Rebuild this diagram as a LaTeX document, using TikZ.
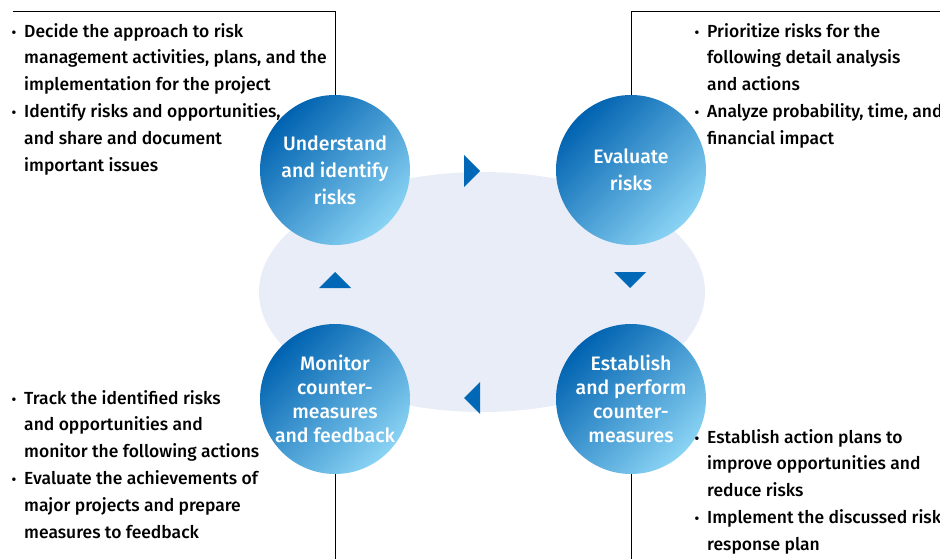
\documentclass[tikz,border=0pt]{standalone}
\usepackage{fontspec}
\setmainfont{Fira Sans Medium}
\definecolor{tri}{HTML}{0068B6}
\definecolor{ell}{HTML}{E9EDF8}
\definecolor{cdark}{HTML}{0062B0}
\definecolor{cmid}{HTML}{0A8ED5}
\definecolor{clight}{HTML}{8AD3F4}
\tikzset{
  stage/.style={circle, minimum size=150pt, inner sep=0pt, left color=cdark, middle color=cmid, right color=clight, shading angle=45, text=white, align=center, font=\fontsize{19.5}{27}\selectfont},
  stagetight/.style={stage, font=\fontsize{19.5}{24}\selectfont},
  desc/.style={anchor=north west, inner sep=0pt, align=left, font=\fontsize{17.5}{26.8}\selectfont},
  link/.style={draw=black, line width=0.8pt},
  arrowtri/.style={fill=tri}
}
\newcommand{\bl}{\makebox[13pt][l]{\hspace*{0.5pt}{\fontsize{14}{14}\selectfont •}}}
\newcommand{\hi}{\hspace*{13pt}}
\begin{document}
\begin{tikzpicture}[x=1pt,y=-1pt]
\useasboundingbox (0,0) rectangle (940,559);
\clip (0,0) rectangle (940,559);
\fill[ell] (482,292) ellipse [x radius=223, y radius=120];
\node[stage] (u) at (335,170) {Understand\\and identify\\risks};
\node[stage] (e) at (631,170) {Evaluate\\risks};
\node[stagetight] (m) at (335,399) {Monitor\\counter-\\measures\\and feedback};
\node[stagetight] (p) at (631,399) {Establish\\and perform\\counter-\\measures};
% triangles
\fill[arrowtri] (464,155) -- (480,171) -- (464,187) -- cycle;
\fill[arrowtri] (614,272) -- (646,272) -- (630,288) -- cycle;
\fill[arrowtri] (480,382) -- (464,398) -- (480,414) -- cycle;
\fill[arrowtri] (319,288) -- (351,288) -- (335,272) -- cycle;
% descriptions
\node[desc] (tl) at (11,23) {\bl Decide the approach to risk\\\hi management activities, plans, and the\\\hi implementation for the project\\\bl Identify risks and opportunities,\\\hi and share and document\\\hi important issues};
\node[desc] (tr) at (694,23) {\bl Prioritize risks for the\\\hi following detail analysis\\\hi and actions\\\bl Analyze probability, time, and\\\hi financial impact};
\node[desc] (bl) at (11,390) {\bl Track the identified risks\\\hi and opportunities and\\\hi monitor the following actions\\\bl Evaluate the achievements of\\\hi major projects and prepare\\\hi measures to feedback};
\node[desc] (br) at (694,429) {\bl Establish action plans to\\\hi improve opportunities and\\\hi reduce risks\\\bl Implement the discussed risk\\\hi response plan};
% connectors
\coordinate (tlc) at (13,11);
\coordinate (trc) at (940,11);
\coordinate (bot) at (0,559);
\draw[link] (tlc) -- (tlc -| u.north) -- (u.north);
\draw[link] (trc) -- (trc -| e.north) -- (e.north);
\draw[link] (m.south) -- (bot -| m.south);
\draw[link] (p.south) -- (bot -| p.south);
\end{tikzpicture}
\end{document}
